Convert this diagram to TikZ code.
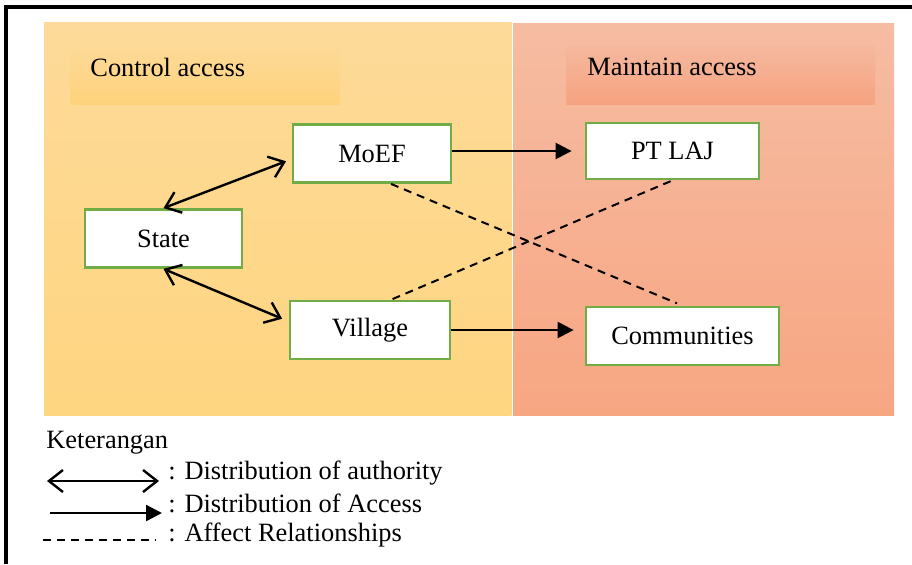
\documentclass[tikz,border=0pt]{standalone}
\usepackage{fontspec}
\setmainfont{Liberation Serif}
\usepackage{tikz}
\usetikzlibrary{arrows.meta,positioning,calc}

\definecolor{ctrltop}{RGB}{253,218,153}
\definecolor{ctrlbot}{RGB}{254,213,128}
\definecolor{mainttop}{RGB}{246,188,162}
\definecolor{maintbot}{RGB}{247,166,130}
\definecolor{ctrllabtop}{RGB}{253,217,150}
\definecolor{ctrllabbot}{RGB}{254,211,124}
\definecolor{maintlabtop}{RGB}{245,184,158}
\definecolor{maintlabbot}{RGB}{246,163,128}
\definecolor{boxgreen}{RGB}{112,173,71}

\begin{document}
\begin{tikzpicture}[
x=0.5pt, y=-0.5pt,
font=\fontsize{13.2}{16}\selectfont,
actor-node/.style = {draw=boxgreen, line width=1.4pt, fill=white, minimum height=29pt, inner sep=0pt},
zone-text/.style = {anchor=west, inner sep=0pt},
authority/.style = {line width=1.2pt, {Straight Barb[length=7pt,width=11pt,line width=1.2pt]}-{Straight Barb[length=7pt,width=11pt,line width=1.2pt]}},
access/.style = {line width=1.2pt, -{Triangle[length=8pt,width=8pt]}},
affect/.style = {line width=1pt, dash pattern=on 4pt off 3pt}
]
\useasboundingbox (0,0) rectangle (912,564);

% frame and zones
\draw[line width=1.6pt] (6,564) -- (6,7) -- (912,7);
\shade[top color=ctrltop, bottom color=ctrlbot] (44,22) rectangle (511.5,415);
\shade[top color=mainttop, bottom color=maintbot] (513,23) rectangle (894,415);
\shade[top color=ctrllabtop, bottom color=ctrllabbot] (70,50) rectangle (340,104);
\shade[top color=maintlabtop, bottom color=maintlabbot] (566,46) rectangle (875,104);
\node[zone-text] (control) at (90,67) {Control access};
\node[zone-text] (maintain) at (587,67) {Maintain access};

% actors
\node[actor-node, minimum width=78.5pt] (state) at (163.5,238.5) {State};
\node[actor-node, minimum width=79pt] (moef) at (372,153.5) {MoEF};
\node[actor-node, minimum width=80pt] (village) at (370,330) {Village};
\node[actor-node, minimum width=86.5pt, minimum height=28pt] (ptlaj) at (672.5,151) {PT LAJ};
\node[actor-node, minimum width=96.5pt] (communities) at (682.5,336) {Communities};

% arrows
\draw[authority, shorten >=3pt] (state.north) -- (moef.184);
\draw[authority, shorten >=3.5pt] (state.south) -- (village.174);
\draw[access, shorten >=6.5pt] (ptlaj.west -| moef.east) -- (ptlaj.west);
\draw[access, shorten >=5.5pt] (village.east) -- (village.east -| communities.west);
\draw[affect, shorten >=3pt] (moef.-58) -- (communities.north);
\draw[affect, shorten <=1pt] (ptlaj.south) -- (village.55);

% legend
\node[zone-text] (keterangan) at (46,443) {Keterangan};
\coordinate (auth-a) at (47,481);
\coordinate (auth-b) at (159,481);
\coordinate (acc-a) at (50,513);
\coordinate (acc-b) at (162,513);
\coordinate (aff-a) at (43,540);
\coordinate (aff-b) at (156,540);
\draw[authority] (auth-a) -- (auth-b);
\draw[access] (acc-a) -- (acc-b);
\draw[affect] (aff-a) -- (aff-b);
\node[zone-text] (auth-text) at (168,473) {: Distribution of authority};
\node[zone-text] (acc-text) at (168,503) {: Distribution of Access};
\node[zone-text] (aff-text) at (168,535) {: Affect Relationships};

\end{tikzpicture}
\end{document}
